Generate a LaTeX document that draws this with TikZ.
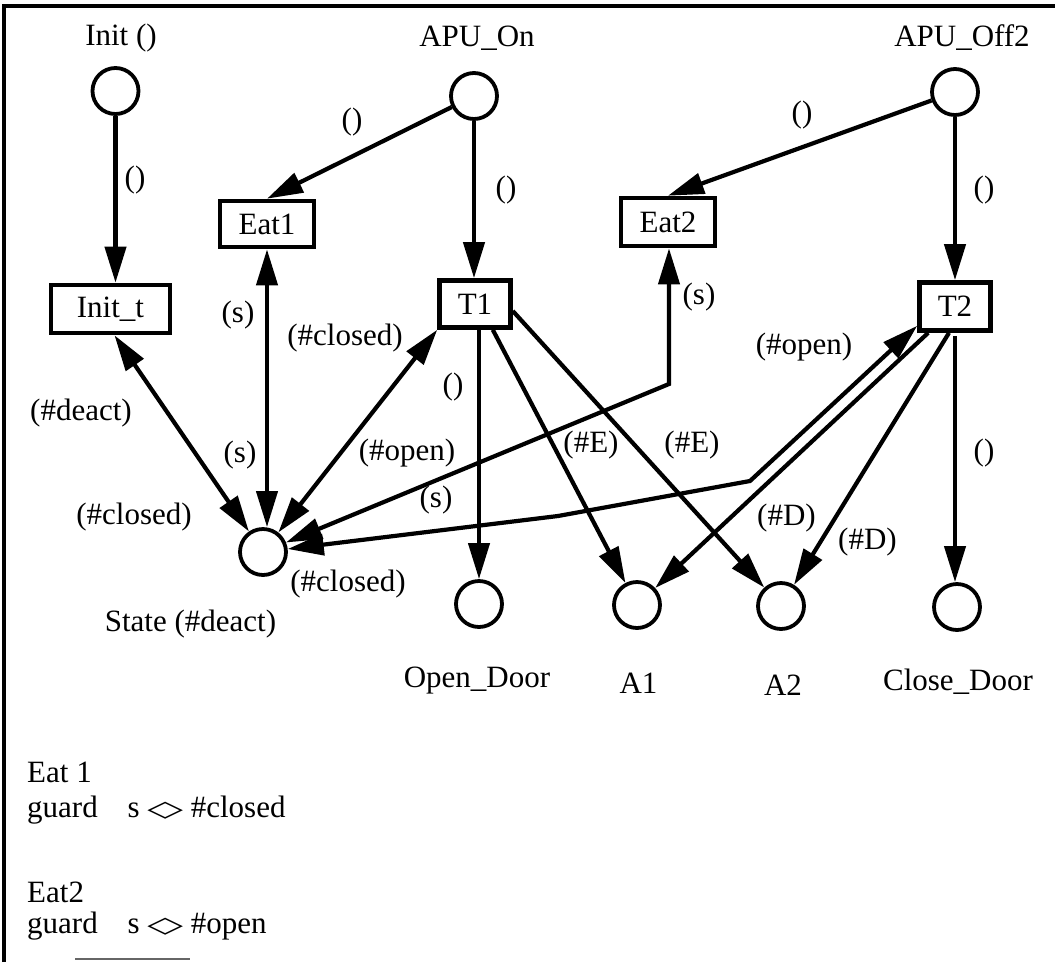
\documentclass[tikz,border=0pt]{standalone}
\usepackage{fontspec}
\setmainfont{Liberation Serif}
\newfontfamily\symfont{DejaVu Sans}
\usetikzlibrary{arrows.meta,calc}
\begin{document}
\begin{tikzpicture}[x=1pt,y=-1pt,
  font=\fontsize{31}{37}\selectfont,
  place/.style={circle,draw,line width=3.8pt,minimum size=46pt,inner sep=0pt},
  trans/.style={rectangle,draw,line width=4.6pt,inner sep=0pt},
  arc/.style={line width=4.2pt,-{Triangle[length=36pt,width=21pt]}},
  biarc/.style={line width=4.2pt,{Triangle[length=36pt,width=21pt]}-{Triangle[length=36pt,width=21pt]}},
  lbl/.style={inner sep=0pt},
  note/.style={inner sep=0pt,anchor=base west},
  ]
\useasboundingbox (0,0) rectangle (1055,962);
\fill[white] (0,0) rectangle (1055,962);

% frame
\draw[line width=3.8pt] (4,962) -- (4,6) -- (1055,6);
\draw[line width=2pt,black!60] (75,959) -- (190,959);

% places
\node[place] (Init) at (115.5,91) {};
\node[place] (APUOn) at (474,96) {};
\node[place] (APUOff2) at (955,92) {};
\node[place] (State) at (263,552) {};
\node[place] (OpenDoor) at (479,604) {};
\node[place] (A1) at (637,605) {};
\node[place] (A2) at (781,606) {};
\node[place] (CloseDoor) at (957,607) {};

% place names
\node[lbl] (lInit) at (121,38) {Init ()};
\node[lbl] (lAPUOn) at (477,38) {APU\_On};
\node[lbl] (lAPUOff2) at (962,38) {APU\_Off2};
\node[lbl] (lState) at (190.5,624) {State (\#deact)};
\node[lbl] (lOpenDoor) at (477,681) {Open\_Door};
\node[lbl] (lA1) at (638.5,683) {A1};
\node[lbl] (lA2) at (783,685) {A2};
\node[lbl] (lCloseDoor) at (958,682) {Close\_Door};

% transitions
\node[trans,minimum width=119pt,minimum height=48pt] (Initt) at (110.5,309) {Init\_t};
\node[trans,minimum width=94pt,minimum height=46pt] (Eat1) at (267,224) {Eat1};
\node[trans,minimum width=71pt,minimum height=47pt] (T1) at (475,304) {T1};
\node[trans,minimum width=94pt,minimum height=48pt] (Eat2) at (668,222) {Eat2};
\node[trans,minimum width=71pt,minimum height=48pt] (T2) at (955,306.5) {T2};

% bend points
\coordinate (bE) at (669,384);
\coordinate (bT) at (750,481);
\coordinate (bT2) at (558,516);

% arcs
\draw[arc] (Init) -- (Init |- Initt.north);
\draw[arc] (APUOn) -- (Eat1.north);
\draw[arc] (APUOn) -- (APUOn |- T1.north);
\draw[arc] (APUOff2) -- (Eat2.north);
\draw[arc] (APUOff2) -- (APUOff2 |- T2.north);

\draw[biarc] ($(Initt.south)+(4,0)$) -- (State);
\draw[biarc] (Eat1.south) -- (Eat1.south |- State.north);
\draw[biarc] (T1.south west) -- (State);
\draw[biarc] (Eat2.south -| bE) -- (bE) -- (State);
\draw[biarc] ($(T2.south west)+(0,-7)$) -- (bT) -- (bT2) -- (State);

\draw[arc] ($(T1.south)+(4,7)$) -- (T1.south -| OpenDoor) -- (OpenDoor);
\draw[arc] ($(T1.south east)+(-20,0)$) -- (A1);
\draw[arc] ($(T1.east)+(0,7)$) -- (A2);
\draw[arc] ($(T2.south west)+(11,0)$) -- (A1);
\draw[arc] ($(T2.south)+(-6,0)$) -- (A2);
\draw[arc] ($(T2.south)+(0,3)$) -- (T2.south |- CloseDoor.north);

% arc inscriptions
\node[lbl] (e1) at (135,180) {()};
\node[lbl] (e2) at (352,122) {()};
\node[lbl] (e3) at (506,190) {()};
\node[lbl] (e4) at (802,115) {()};
\node[lbl] (e5) at (984,190) {()};
\node[lbl] (e6) at (238,315) {(s)};
\node[lbl] (e7) at (240,455) {(s)};
\node[lbl] (e8) at (81,413) {(\#deact)};
\node[lbl] (e9) at (134,517) {(\#closed)};
\node[lbl] (e10) at (345,338) {(\#closed)};
\node[lbl] (e11) at (407,453) {(\#open)};
\node[lbl] (e12) at (453,387) {()};
\node[lbl] (e13) at (699,297) {(s)};
\node[lbl] (e14) at (436,500) {(s)};
\node[lbl] (e15) at (804,347) {(\#open)};
\node[lbl] (e16) at (348,584) {(\#closed)};
\node[lbl] (e17) at (591,445) {(\#E)};
\node[lbl] (e18) at (692,445) {(\#E)};
\node[lbl] (e19) at (786.5,518) {(\#D)};
\node[lbl] (e20) at (867.5,542) {(\#D)};
\node[lbl] (e21) at (984,453) {()};

% guards
\newcommand{\dmd}{\raisebox{1pt}{\scalebox{1.5}[0.72]{\symfont\bfseries ◇}}}
\node[note] (g1) at (27,782) {Eat 1};
\node[note] (g2) at (27,817) {guard\hspace{22pt} s \dmd{} \#closed};
\node[note] (g3) at (27,902) {Eat2};
\node[note] (g4) at (27,933) {guard\hspace{22pt} s \dmd{} \#open};
\end{tikzpicture}
\end{document}
